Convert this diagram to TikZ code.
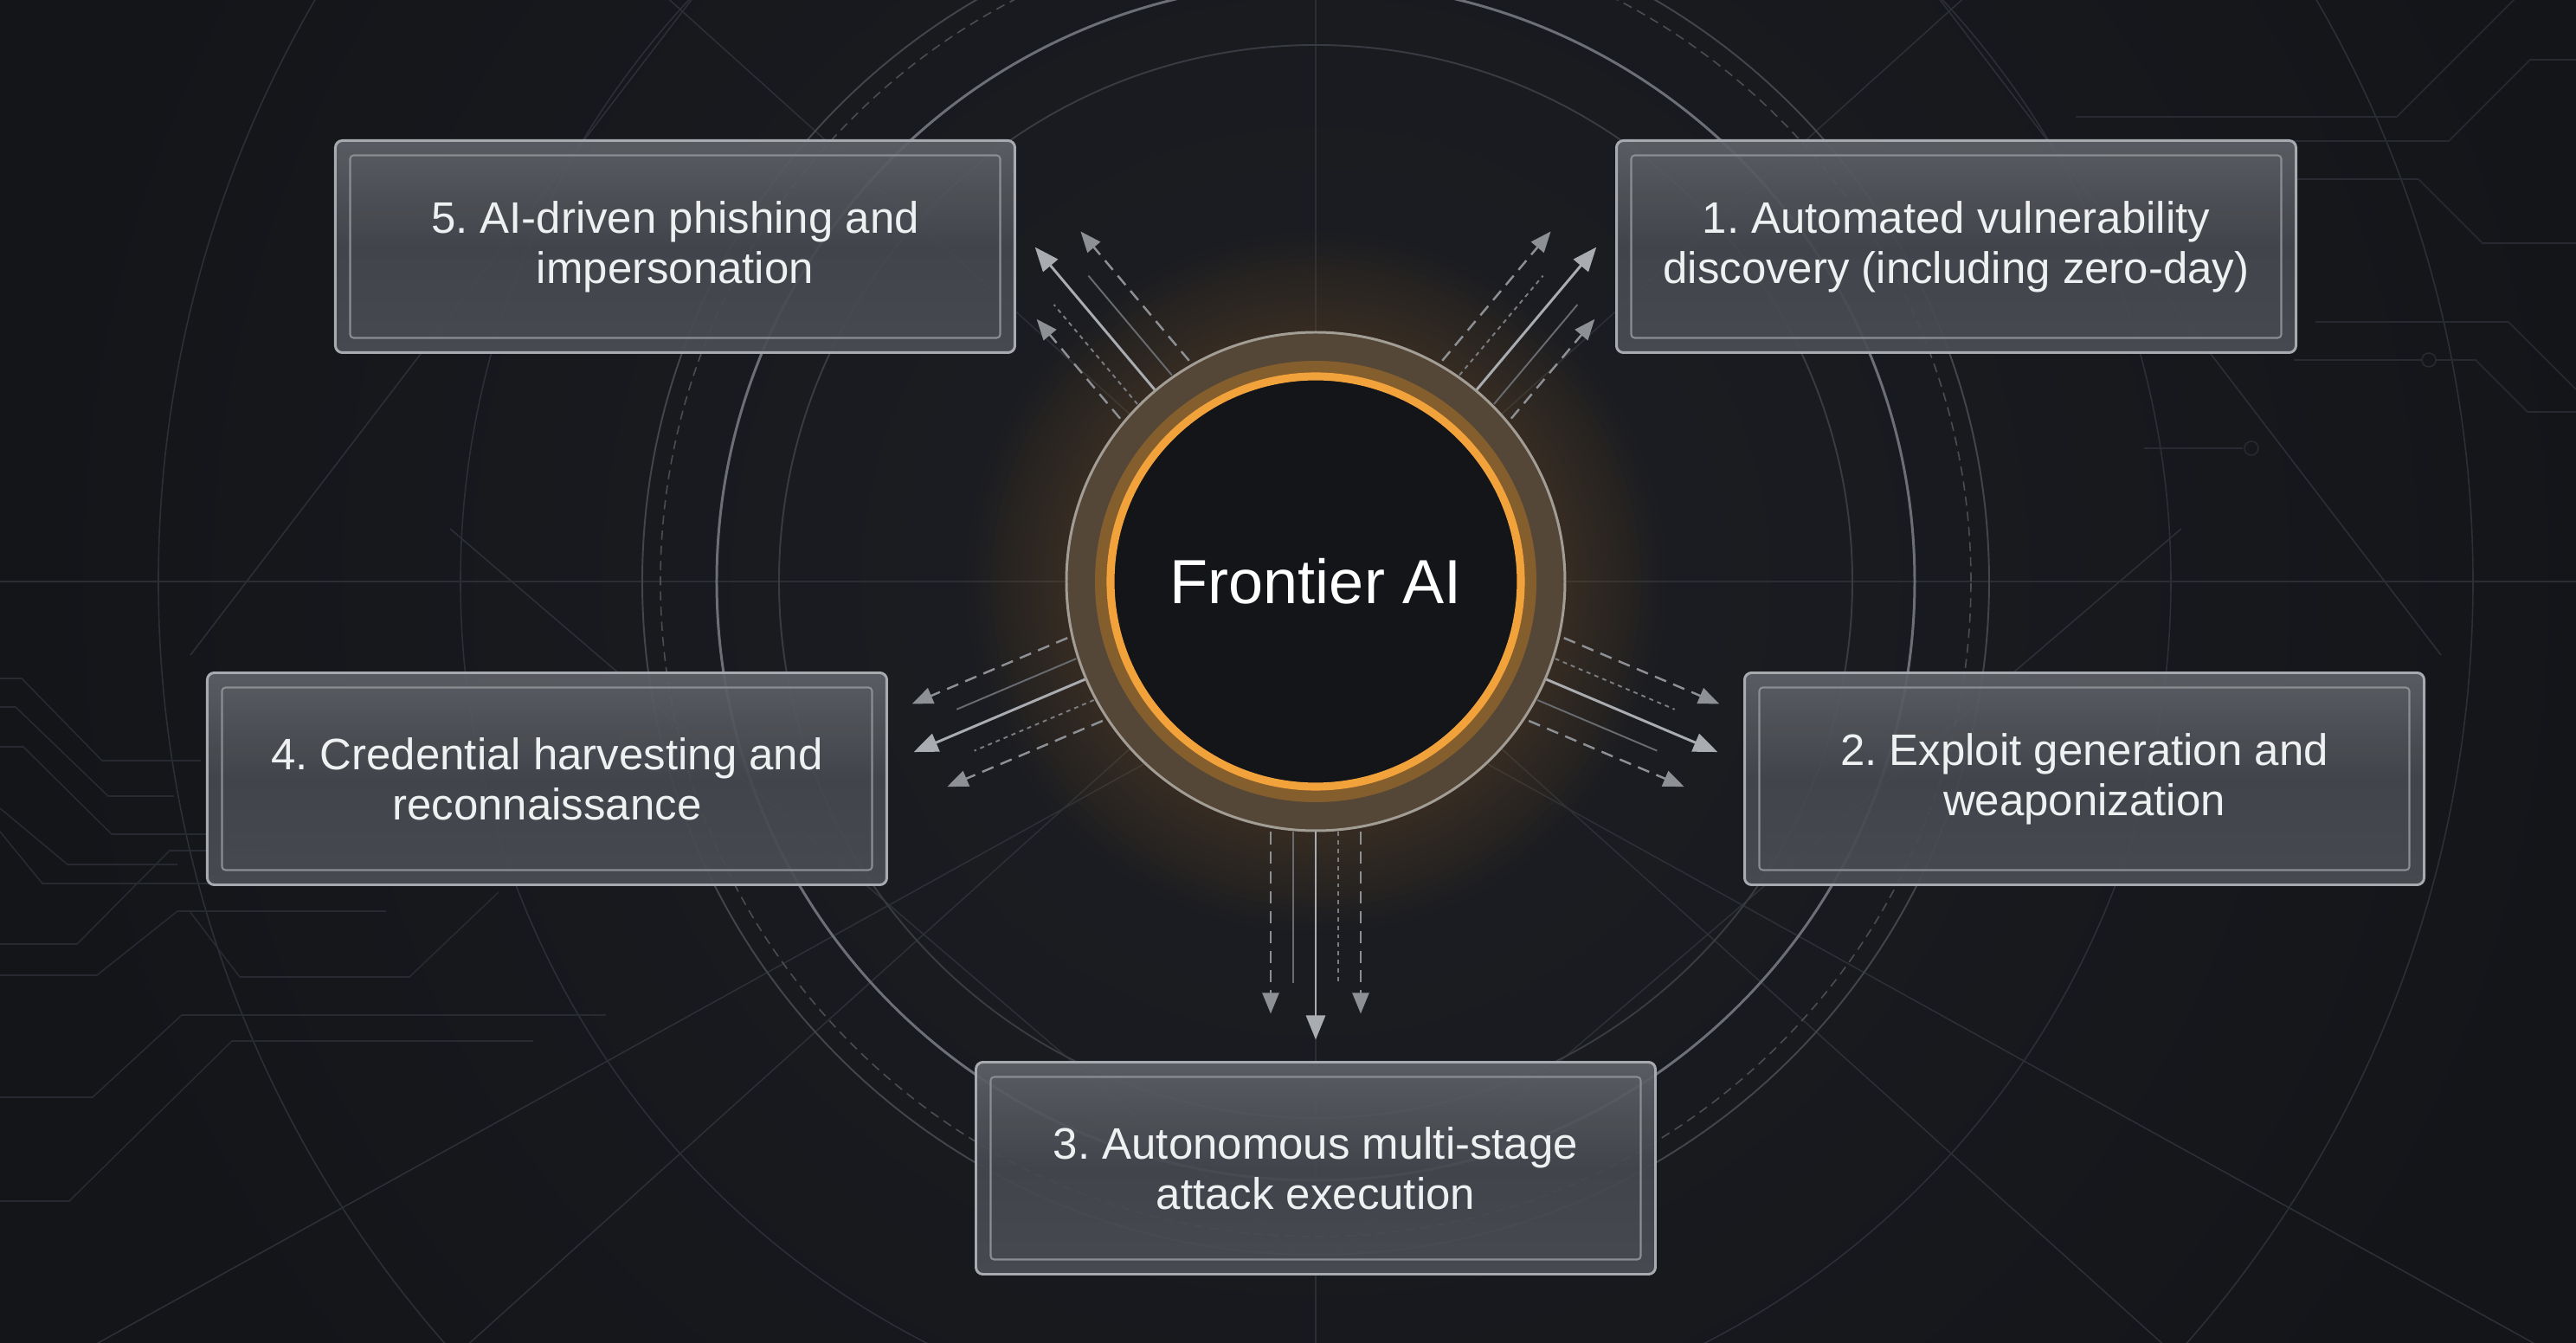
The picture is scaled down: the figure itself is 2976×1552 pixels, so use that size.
\documentclass[tikz,border=0pt]{standalone}
\usepackage{fontspec}
\setmainfont{Liberation Sans}
\usetikzlibrary{arrows.meta,calc,positioning,fadings}

\definecolor{bgc}{HTML}{131519}
\definecolor{bgmid}{HTML}{1D1F24}
\definecolor{gridc}{HTML}{2A2D33}
\definecolor{starc}{HTML}{2C2F35}
\definecolor{trace}{HTML}{272A30}
\definecolor{ringA}{HTML}{383B41}
\definecolor{ringB}{HTML}{6C6F75}
\definecolor{ringC}{HTML}{4A4D53}
\definecolor{ringD}{HTML}{42454B}
\definecolor{ringE}{HTML}{2C2F35}
\definecolor{glowc}{HTML}{C27A22}
\definecolor{bronze}{HTML}{544737}
\definecolor{rimedge}{HTML}{A29D95}
\definecolor{orangec}{HTML}{F2A23A}
\definecolor{core}{HTML}{131519}
\definecolor{arrM}{HTML}{A9ACB1}
\definecolor{arrD}{HTML}{8D9095}
\definecolor{arrS}{HTML}{7A7D82}
\definecolor{arrP}{HTML}{686B70}
\definecolor{edge}{HTML}{A7AAAF}
\definecolor{frame}{HTML}{8A8D92}
\definecolor{glassT}{HTML}{5E6167}
\definecolor{glassM}{HTML}{45484E}
\definecolor{glassB}{HTML}{4A4D53}
\definecolor{txt}{HTML}{EFF0F2}

\tikzfading[name=glowfade, inner color=transparent!0, outer color=transparent!100]

\begin{document}
\frenchspacing
\begin{tikzpicture}[x=0.1mm,y=0.1mm,>=Latex]

  \tikzstyle{B}=[rectangle, rounded corners=0.8mm, draw=edge, line width=0.85pt,
    minimum width=78.5mm, minimum height=24.5mm, top color=glassT,
    bottom color=glassB, middle color=glassM, fill opacity=0.93, text opacity=1,
    align=center, text=txt, font=\fontsize{14.5}{16.5}\selectfont];
  \tikzstyle{F}=[rectangle, rounded corners=0.4mm, draw=frame, line width=0.6pt,
    minimum width=75.1mm, minimum height=21.1mm];
  \tikzstyle{M}=[draw=arrM, line width=0.85pt, -{Triangle[length=2.8mm,width=2.2mm]}];
  \tikzstyle{D}=[draw=arrD, line width=0.7pt, dash pattern=on 4pt off 2.5pt,
    -{Triangle[length=2.4mm,width=1.9mm]}];
  \tikzstyle{S}=[draw=arrS, line width=0.55pt, dash pattern=on 1.4pt off 1.4pt];
  \tikzstyle{P}=[draw=arrP, line width=0.55pt];
  \tikzstyle{T}=[draw=trace, line width=0.45pt];
  \tikzstyle{G}=[draw=starc, line width=0.45pt];

  \useasboundingbox (-1520,-880) rectangle (1456,672);
  \clip (-1520,-880) rectangle (1456,672);
  \fill[bgc] (-1520,-880) rectangle (1456,672);
  \shade[inner color=bgmid, outer color=bgc] (0,0) circle (1500);

  %% grid and star lines
  \draw[gridc, line width=0.45pt] (-1520,0) -- (1456,0);
  \draw[gridc, line width=0.45pt] (0,-880) -- (0,672);
  \draw[G] (222:1800) -- (42:1800);
  \draw[G] (318:1800) -- (138:1800);
  \draw[G] (-1600,-987) -- (0,-101) -- (1600,-987);
  \draw[G] (-1000,61) -- (0,-796) -- (1000,61);
  \draw[G] (-700,700) -- (-1300,-85);
  \draw[G] (700,700) -- (1300,-85);

  %% rings
  \draw[ringA, line width=0.55pt] (0,0) circle (620);
  \draw[ringB, line width=0.85pt] (0,0) circle (692);
  \draw[ringC, line width=0.45pt, dash pattern=on 3pt off 2pt] (0,0) circle (757);
  \draw[ringD, line width=0.55pt] (0,0) circle (778);
  \draw[ringE, line width=0.45pt] (0,0) circle (988);
  \draw[ringE, line width=0.45pt] (0,0) circle (1337);

  %% traces top right
  \draw[T] (878,537) -- (1249,537) -- (1420,708);
  \draw[T] (1125,509) -- (1309,509) -- (1403,603) -- (1456,603);
  \draw[T] (1125,465) -- (1274,465) -- (1348,391) -- (1456,391);
  \draw[T] (1155,300) -- (1378,300) -- (1456,222);
  \draw[T] (1130,256) -- (1278,256);
  \draw[T] (1286,256) circle (8);
  \draw[T] (1294,256) -- (1340,256) -- (1400,196) -- (1456,196);
  \draw[T] (957,154) -- (1071,154);
  \draw[T] (1081,154) circle (8);

  %% traces bottom left
  \draw[T] (-1520,-112) -- (-1495,-112) -- (-1402,-207) -- (-1288,-207);
  \draw[T] (-1520,-145) -- (-1502,-145) -- (-1395,-248) -- (-1319,-248);
  \draw[T] (-1520,-191) -- (-1493,-191) -- (-1391,-292) -- (-1279,-292);
  \draw[T] (-1520,-262) -- (-1442,-327) -- (-1315,-327);
  \draw[T] (-1520,-289) -- (-1471,-349) -- (-1118,-349);
  \draw[T] (-1520,-419) -- (-1431,-419) -- (-1324,-311) -- (-1208,-311);
  \draw[T] (-1520,-455) -- (-1408,-455) -- (-1315,-381) -- (-1074,-381);
  \draw[T] (-1301,-381) -- (-1243,-457) -- (-1047,-457) -- (-944,-359);
  \draw[T] (-1520,-596) -- (-1413,-596) -- (-1310,-501) -- (-820,-501);
  \draw[T] (-1520,-716) -- (-1440,-716) -- (-1252,-531) -- (-904,-531);

  %% centre
  \fill[glowc, opacity=0.55, path fading=glowfade] (0,0) circle (410);
  \node[circle, minimum size=57.6mm, inner sep=0pt, fill=bronze, draw=rimedge,
    line width=0.85pt] (rim) at (0,0) {};
  \draw[glowc, line width=4pt, opacity=0.45] (rim.center) circle (248);
  \node[circle, minimum size=47.4mm, inner sep=0pt, fill=core, draw=orangec,
    line width=2.6pt, text=white, font=\fontsize{20.5}{24}\selectfont] (ai)
    at (rim.center) {Frontier AI};

  %% bundle to 5
  \draw[D] ([shift={(220:52)}]rim.130) -- ++(130:150);
  \draw[S] ([shift={(220:26)}]rim.130) -- ++(130:150);
  \draw[M] (rim.130) -- ++(130:215);
  \draw[P] ([shift={(40:26)}]rim.130) -- ++(130:150);
  \draw[D] ([shift={(40:52)}]rim.130) -- ++(130:195);

  %% bundle to 1
  \draw[D] ([shift={(140:52)}]rim.50) -- ++(50:195);
  \draw[S] ([shift={(140:26)}]rim.50) -- ++(50:150);
  \draw[M] (rim.50) -- ++(50:215);
  \draw[P] ([shift={(320:26)}]rim.50) -- ++(50:150);
  \draw[D] ([shift={(320:52)}]rim.50) -- ++(50:150);

  %% bundle to 2
  \draw[D] ([shift={(67:52)}]rim.337) -- ++(337:195);
  \draw[S] ([shift={(67:26)}]rim.337) -- ++(337:150);
  \draw[M] (rim.337) -- ++(337:215);
  \draw[P] ([shift={(247:26)}]rim.337) -- ++(337:150);
  \draw[D] ([shift={(247:52)}]rim.337) -- ++(337:195);

  %% bundle to 4
  \draw[D] ([shift={(293:52)}]rim.203) -- ++(203:195);
  \draw[S] ([shift={(293:26)}]rim.203) -- ++(203:150);
  \draw[M] (rim.203) -- ++(203:215);
  \draw[P] ([shift={(113:26)}]rim.203) -- ++(203:150);
  \draw[D] ([shift={(113:52)}]rim.203) -- ++(203:195);

  %% bundle to 3
  \draw[D] ([shift={(180:52)}]rim.270) -- ++(270:210);
  \draw[P] ([shift={(180:26)}]rim.270) -- ++(270:175);
  \draw[M] (rim.270) -- ++(270:240);
  \draw[S] ([shift={(0:26)}]rim.270) -- ++(270:175);
  \draw[D] ([shift={(0:52)}]rim.270) -- ++(270:210);

  %% boxes
  \node[B] (b5) at (-740,387) {5. AI-driven phishing and\\impersonation};
  \node[F] at (b5.center) {};
  \node[B] (b1) at (740,387) {1. Automated vulnerability\\discovery (including zero-day)};
  \node[F] at (b1.center) {};
  \node[B] (b4) at (-888,-228) {4. Credential harvesting and\\reconnaissance};
  \node[F] at (b4.center) {};
  \node[B] (b2) at (888,-228) {2. Exploit generation and\\weaponization};
  \node[F] at (b2.center) {};
  \node[B] (b3) at (0,-678) {3. Autonomous multi-stage\\attack execution};
  \node[F] at (b3.center) {};

\end{tikzpicture}
\end{document}
